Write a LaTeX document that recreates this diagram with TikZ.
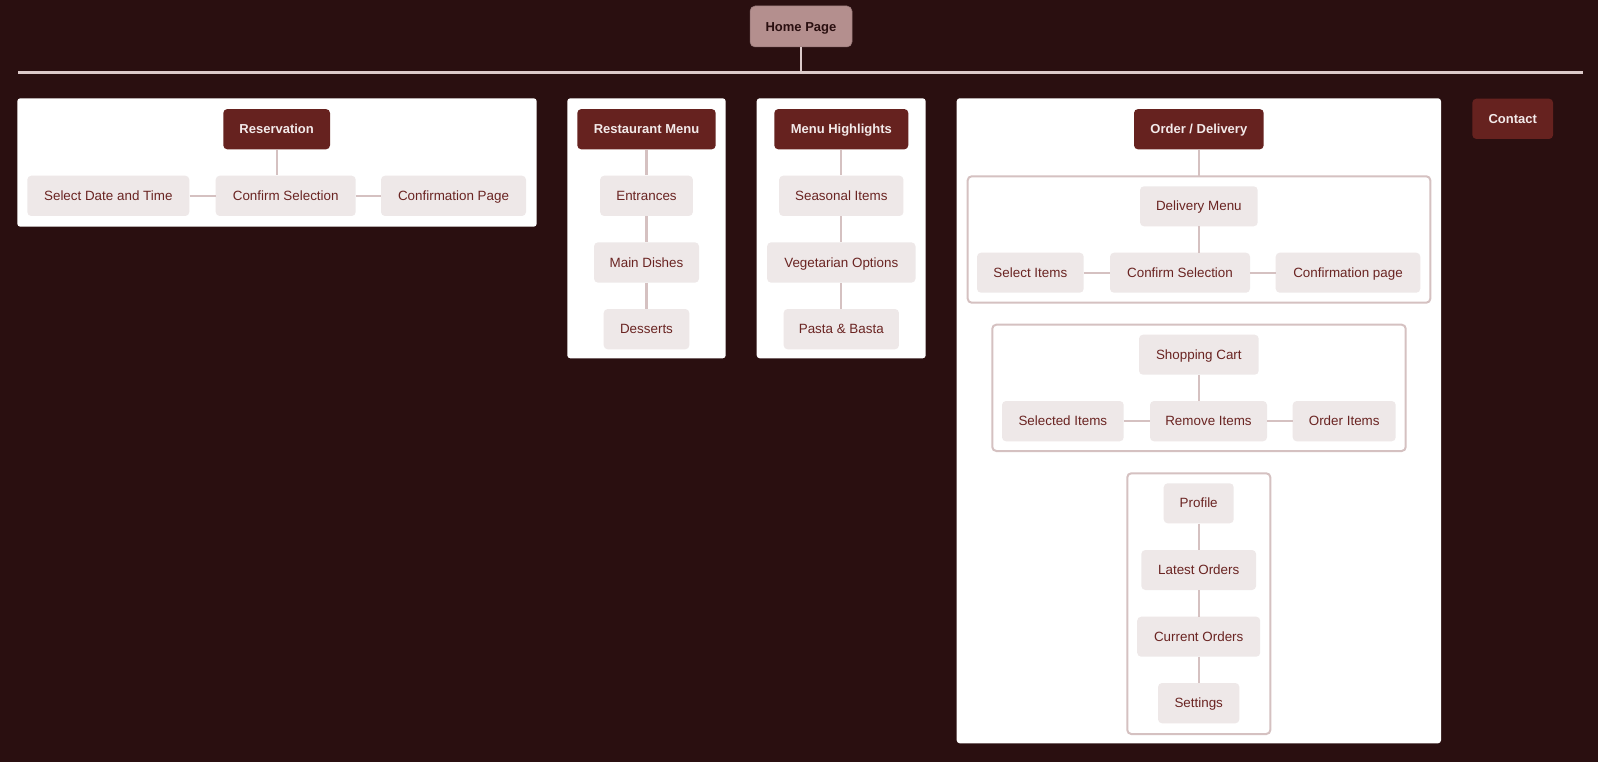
\documentclass[tikz,border=0pt]{standalone}
\usepackage{fontspec}
\setmainfont{Liberation Sans}
\definecolor{bg}{HTML}{2A0F10}
\definecolor{hdr}{HTML}{66221F}
\definecolor{hdrtxt}{HTML}{F3EAEA}
\definecolor{chl}{HTML}{EEE8E8}
\definecolor{chltxt}{HTML}{6A2422}
\definecolor{homefill}{HTML}{B48F8E}
\definecolor{conn}{HTML}{D5C1C1}
\definecolor{mainline}{HTML}{DCCACA}
\tikzset{
  hdrbox/.style={fill=hdr, text=hdrtxt, rounded corners=4pt, inner sep=0pt, minimum height=40.3pt, text height=9.6pt, text depth=0.5pt, font=\fontsize{13}{14}\selectfont\bfseries},
  homebox/.style={fill=homefill, draw=homefill!80!black, line width=0.5pt, text=bg, rounded corners=5pt, inner sep=0pt, minimum height=41pt, text height=9.6pt, text depth=0.5pt, font=\fontsize{13}{14}\selectfont\bfseries},
  chlbox/.style={fill=chl, text=chltxt, rounded corners=4pt, inner sep=0pt, minimum height=40.3pt, text height=9.7pt, text depth=0.5pt, font=\fontsize{13.4}{15}\selectfont},
  panelbox/.style={fill=white, rounded corners=3pt},
  framebox/.style={draw=conn, line width=2pt, rounded corners=4pt},
  conline/.style={draw=conn, line width=2.2pt},
}
\begin{document}
\begin{tikzpicture}[x=1pt,y=-1pt]
\useasboundingbox (0,0) rectangle (1598,762);
\fill[bg] (0,0) rectangle (1598,762);

% top
\node[homebox, minimum width=102pt] (home) at (801,26.5) {Home Page};
\coordinate (hl) at (18.3,72.5);
\coordinate (hr) at (1582.7,72.5);
\draw[mainline, line width=2.5pt] (hl) -- (hr);
\draw[mainline, line width=2.5pt] (home.south) -- (home.south |- hl);

% panels
\fill[panelbox] (17.3,98.3) rectangle (536.7,226.7);
\fill[panelbox] (567.3,98.3) rectangle (725.7,358.3);
\fill[panelbox] (756.7,98.3) rectangle (925.7,358.3);
\fill[panelbox] (956.7,98.3) rectangle (1441,743.3);

% frames inside order panel
\draw[framebox] (967.7,176.3) rectangle (1430.3,302.7);
\draw[framebox] (992.3,324.7) rectangle (1405.7,451);
\draw[framebox] (1127.3,473.3) rectangle (1270.3,734);

% Reservation
\node[hdrbox, minimum width=106.7pt] (res) at (276.65,129.2) {Reservation};
\node[chlbox, minimum width=162pt] (sdt) at (108.3,195.85) {Select Date and Time};
\node[chlbox, minimum width=140pt] (cs1) at (285.7,195.85) {Confirm Selection};
\node[chlbox, minimum width=145pt] (cp1) at (453.5,195.85) {Confirmation Page};
\draw[conline] (res.south) -- (res.south |- cs1.north);
\draw[conline] (sdt.east) -- (cs1.west);
\draw[conline] (cs1.east) -- (cp1.west);

% Restaurant menu
\node[hdrbox, minimum width=138.4pt] (rmenu) at (646.5,129.2) {Restaurant Menu};
\node[chlbox, minimum width=92.7pt] (entr) at (646.5,195.85) {Entrances};
\node[chlbox, minimum width=105pt] (main) at (646.5,262.5) {Main Dishes};
\node[chlbox, minimum width=85.6pt] (dess) at (646.5,329.15) {Desserts};
\draw[conline] (rmenu.south) -- (entr.north);
\draw[conline] (entr.south) -- (main.north);
\draw[conline] (main.south) -- (dess.north);

% Menu highlights
\node[hdrbox, minimum width=134pt] (mhigh) at (841.3,129.2) {Menu Highlights};
\node[chlbox, minimum width=124.3pt] (seas) at (841.3,195.85) {Seasonal Items};
\node[chlbox, minimum width=148.4pt] (veg) at (841.3,262.5) {Vegetarian Options};
\node[chlbox, minimum width=115.3pt] (pasta) at (841.3,329.15) {Pasta \& Basta};
\draw[conline] (mhigh.south) -- (seas.north);
\draw[conline] (seas.south) -- (veg.north);
\draw[conline] (veg.south) -- (pasta.north);

% Order / Delivery
\node[hdrbox, minimum width=129.7pt] (order) at (1198.85,129.2) {Order / Delivery};
\coordinate (f1top) at (1198.85,176.3);
\draw[conline] (order.south) -- (f1top);

\node[chlbox, minimum width=117.7pt, minimum height=40pt] (dmenu) at (1198.85,206.3) {Delivery Menu};
\node[chlbox, minimum width=106.7pt, minimum height=40pt] (si) at (1030.35,272.7) {Select Items};
\node[chlbox, minimum width=140pt, minimum height=40pt] (cs2) at (1180,272.7) {Confirm Selection};
\node[chlbox, minimum width=144.6pt, minimum height=40pt] (cp2) at (1348,272.7) {Confirmation page};
\draw[conline] (dmenu.south) -- (dmenu.south |- cs2.north);
\draw[conline] (si.east) -- (cs2.west);
\draw[conline] (cs2.east) -- (cp2.west);

\node[chlbox, minimum width=119.7pt, minimum height=40pt] (cart) at (1198.85,354.7) {Shopping Cart};
\node[chlbox, minimum width=121.7pt] (seli) at (1062.85,421.15) {Selected Items};
\node[chlbox, minimum width=117pt] (remi) at (1208.5,421.15) {Remove Items};
\node[chlbox, minimum width=103pt] (ordi) at (1344.2,421.15) {Order Items};
\draw[conline] (cart.south) -- (cart.south |- remi.north);
\draw[conline] (seli.east) -- (remi.west);
\draw[conline] (remi.east) -- (ordi.west);

\node[chlbox, minimum width=70pt, minimum height=40pt] (prof) at (1198.7,503.3) {Profile};
\node[chlbox, minimum width=114.7pt, minimum height=40pt] (latest) at (1198.7,570) {Latest Orders};
\node[chlbox, minimum width=123pt, minimum height=40pt] (curr) at (1198.7,636.7) {Current Orders};
\node[chlbox, minimum width=81.3pt] (sett) at (1198.7,703.15) {Settings};
\draw[conline] (prof.south) -- (latest.north);
\draw[conline] (latest.south) -- (curr.north);
\draw[conline] (curr.south) -- (sett.north);

% Contact
\node[hdrbox, minimum width=80.7pt] (contact) at (1512.7,118.85) {Contact};
\end{tikzpicture}
\end{document}
